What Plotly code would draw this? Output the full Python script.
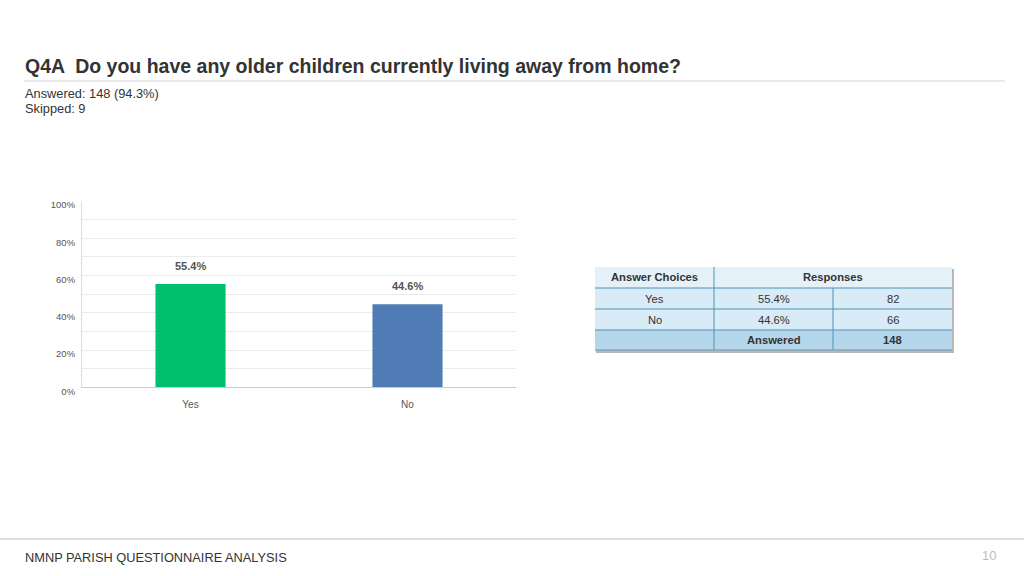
import plotly.graph_objects as go

# ---- data ----
categories = ["Yes", "No"]
percentages = [55.4, 44.6]
counts = [82, 66]
answered_total = 148
skipped = 9
answered_pct = 94.3
y_ticks = [0, 20, 40, 60, 80, 100]
y_tick_labels = [f"{v}%" for v in y_ticks]
bar_colors = ["#00bf6f", "#507cb6"]

title_text = "Q4A  Do you have any older children currently living away from home?"
footer_text = "NMNP PARISH QUESTIONNAIRE ANALYSIS"
page_number = "10"

W, H = 1024, 576
FONT = "Liberation Sans"


def px(x):
    return x / W


def py(y):
    return 1 - y / H


fig = go.Figure()
fig.add_trace(go.Bar(
    x=categories, y=percentages,
    marker=dict(color=bar_colors, line=dict(width=0)),
    hoverinfo="skip", showlegend=False,
))

annotations = []
for c, v in zip(categories, percentages):
    annotations.append(dict(
        x=c, y=v, xref="x", yref="y", text=f"<b>{v}%</b>", showarrow=False,
        yanchor="bottom", yshift=10, font=dict(family=FONT, size=11, color="#555555"),
    ))

annotations += [
    dict(x=px(23), y=py(66), xref="paper", yref="paper", xanchor="left", yanchor="middle",
         text=f"<b>{title_text}</b>", showarrow=False,
         font=dict(family=FONT, size=19.5, color="#333333")),
    dict(x=px(23), y=py(93), xref="paper", yref="paper", xanchor="left", yanchor="middle",
         text=f"Answered: {answered_total} ({answered_pct}%)", showarrow=False,
         font=dict(family=FONT, size=12.8, color="#333333")),
    dict(x=px(23), y=py(108), xref="paper", yref="paper", xanchor="left", yanchor="middle",
         text=f"Skipped: {skipped}", showarrow=False,
         font=dict(family=FONT, size=12.8, color="#333333")),
    dict(x=px(23), y=py(557), xref="paper", yref="paper", xanchor="left", yanchor="middle",
         text=footer_text, showarrow=False,
         font=dict(family=FONT, size=12.8, color="#333333")),
    dict(x=px(998), y=py(555), xref="paper", yref="paper", xanchor="right", yanchor="middle",
         text=page_number, showarrow=False,
         font=dict(family=FONT, size=13, color="#bbbbbb")),
]

shapes = [
    dict(type="line", xref="paper", yref="paper", x0=px(24), x1=px(1005), y0=py(81), y1=py(81),
         line=dict(color="#d4d4d4", width=1)),
    dict(type="line", xref="paper", yref="paper", x0=0, x1=1, y0=py(539), y1=py(539),
         line=dict(color="#dddddd", width=2)),
]

# ---- table (built from data arrays) ----
col_x = [595, 714, 833, 952]
row_y = [267, 288, 309, 330, 350]
border = "#4f93b5"
shapes.append(dict(type="rect", xref="paper", yref="paper",
                   x0=px(col_x[0] + 1), x1=px(col_x[-1] + 2), y0=py(row_y[0] + 2), y1=py(row_y[-1] + 3),
                   line=dict(width=0), fillcolor="#b8b8b8", layer="below"))
row_fills = ["#e4f1f9", "#d8ebf6", "#d8ebf6", "#b4d6eb"]
for i, f in enumerate(row_fills):
    shapes.append(dict(type="rect", xref="paper", yref="paper",
                       x0=px(col_x[0]), x1=px(col_x[-1]), y0=py(row_y[i]), y1=py(row_y[i + 1]),
                       line=dict(width=0), fillcolor=f, layer="below"))
for yy in row_y[1:-1]:
    shapes.append(dict(type="line", xref="paper", yref="paper", x0=px(col_x[0]), x1=px(col_x[-1]),
                       y0=py(yy), y1=py(yy), line=dict(color=border, width=1)))
shapes.append(dict(type="line", xref="paper", yref="paper", x0=px(col_x[1]), x1=px(col_x[1]),
                   y0=py(row_y[0]), y1=py(row_y[-1]), line=dict(color=border, width=1)))
shapes.append(dict(type="line", xref="paper", yref="paper", x0=px(col_x[2]), x1=px(col_x[2]),
                   y0=py(row_y[1]), y1=py(row_y[-1]), line=dict(color=border, width=1)))
shapes.append(dict(type="line", xref="paper", yref="paper", x0=px(col_x[0]), x1=px(col_x[-1]),
                   y0=py(row_y[-1]), y1=py(row_y[-1]), line=dict(color="#6a9ab5", width=1)))


def cell(text, c0, c1, r, bold=False):
    t = f"<b>{text}</b>" if bold else text
    annotations.append(dict(
        x=px((col_x[c0] + col_x[c1]) / 2), y=py((row_y[r] + row_y[r + 1]) / 2),
        xref="paper", yref="paper", xanchor="center", yanchor="middle", showarrow=False,
        text=t, font=dict(family=FONT, size=11.2, color="#333333")))


cell("Answer Choices", 0, 1, 0, True)
cell("Responses", 1, 3, 0, True)
for i, (c, p, n) in enumerate(zip(categories, percentages, counts)):
    cell(c, 0, 1, i + 1)
    cell(f"{p}%", 1, 2, i + 1)
    cell(str(n), 2, 3, i + 1)
cell("Answered", 1, 2, len(categories) + 1, True)
cell(str(answered_total), 2, 3, len(categories) + 1, True)

fig.update_layout(
    width=W, height=H, autosize=False,
    margin=dict(l=0, r=0, t=0, b=0, pad=0, autoexpand=False),
    paper_bgcolor="white", plot_bgcolor="white",
    bargap=0.677,
    xaxis=dict(domain=[px(82), px(516)], showgrid=False, showline=True, linecolor="#cccccc",
               linewidth=1, ticks="", automargin=False, ticklabelstandoff=8,
               tickfont=dict(family=FONT, size=10, color="#555555"), fixedrange=True),
    yaxis=dict(domain=[py(387.3), py(201)], range=[0, 100], tickvals=y_ticks, ticktext=y_tick_labels,
               showgrid=True, gridcolor="#ebebeb", gridwidth=1, automargin=False,
               minor=dict(dtick=10, showgrid=True, gridcolor="#ebebeb", gridwidth=1),
               showline=True, linecolor="#dddddd", linewidth=1, zeroline=False,
               ticks="", ticklabelshift=4, ticklabelstandoff=4,
               tickfont=dict(family=FONT, size=9.5, color="#555555"), fixedrange=True),
    annotations=annotations, shapes=shapes,
)

post = ("var s=document.createElement('style');"
        "s.innerHTML='html,body{margin:0;padding:0;overflow:hidden;background:#ffffff;}';"
        "document.head.appendChild(s);")
fig.write_html("out.html", post_script=post, config={"displayModeBar": False})
